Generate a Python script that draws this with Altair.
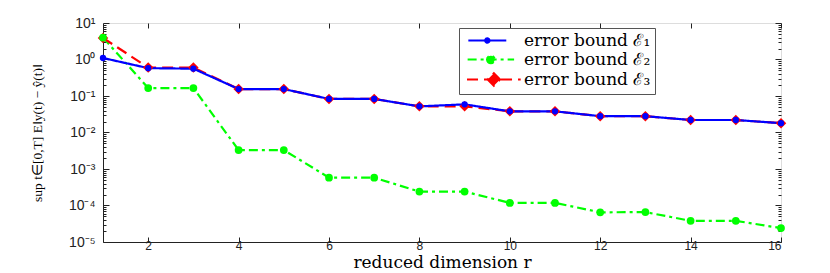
import altair as alt
import pandas as pd

r = list(range(1, 17))
e1 = [1.1, 0.58, 0.56, 0.155, 0.155, 0.083, 0.083, 0.052, 0.059, 0.038, 0.038, 0.028, 0.028, 0.022, 0.022, 0.018]
e2 = [4.0, 0.165, 0.165, 0.0033, 0.0033, 0.00058, 0.00058, 0.00024, 0.00024, 0.000118, 0.000118, 6.5e-5, 6.6e-5, 3.8e-5, 3.8e-5, 2.4e-5]
e3 = [3.9, 0.6, 0.6, 0.155, 0.155, 0.083, 0.083, 0.052, 0.052, 0.038, 0.038, 0.028, 0.028, 0.022, 0.022, 0.018]

L1 = "error bound ℰ₁"
L2 = "error bound ℰ₂"
L3 = "error bound ℰ₃"
labels = [L1, L2, L3]
colors = ["#0000FF", "#00FF00", "#FF0000"]
dashes = [[1, 0], [9, 4, 3, 4], [11, 6]]
circle_sizes = [40, 80, 0]

xticks = [2, 4, 6, 8, 10, 12, 14, 16]
ylabels = ["10⁻⁵", "10⁻⁴", "10⁻³", "10⁻²", "10⁻¹", "10⁰", "10¹"]

rows = []
for lab, vals in [(L2, e2), (L3, e3), (L1, e1)]:
    for xi, v in zip(r, vals):
        rows.append({"r": xi, "v": v, "s": lab, "s2": lab})
df = pd.DataFrame(rows)

yvals = []
for k in range(-5, 1):
    for m in range(1, 10):
        yvals.append(m * 10.0 ** k)
yvals.append(10.0)

lab_arr = "[" + ",".join("'" + s + "'" for s in ylabels) + "]"
major_test = "abs(log(datum.value)/LN10 - round(log(datum.value)/LN10)) < 0.001"
label_expr = f"({major_test}) ? {lab_arr}[round(log(datum.value)/LN10)+5] : ''"
ytick_size = {"condition": {"test": major_test, "value": -6}, "value": -3}

# legend glyphs: line segment with the marker in its middle
leg_paths = [
    "M-1,0H11M4.3,0A0.7,0.7 0 1,0 5.7,0A0.7,0.7 0 1,0 4.3,0Z",
    "M-1,0H11M4,0A1,1 0 1,0 6,0A1,1 0 1,0 4,0Z",
    "M-1,0H11M5,-1.4L6.4,0L5,1.4L3.6,0Z",
]

color_scale = alt.Scale(domain=labels, range=colors)
legend = alt.Legend(
    title=None, orient="none", legendX=356, legendY=5,
    fillColor="white", strokeColor="#555555", padding=4, rowPadding=1,
    labelFont="DejaVu Serif", labelFontSize=17, labelColor="black",
    symbolSize=100, symbolStrokeWidth=2, labelOffset=44,
)

xsc = alt.Scale(domain=[1, 16], nice=False)
ysc = alt.Scale(type="log", domain=[1e-5, 10], nice=False)

x = alt.X("r:Q", scale=xsc,
          axis=alt.Axis(values=xticks, title="reduced dimension r", grid=False,
                        labelFont="Liberation Sans", labelFontSize=12, labelColor="#222",
                        titleFont="DejaVu Serif", titleFontSize=17, titleFontWeight="normal",
                        titleColor="black", titlePadding=3, labelPadding=3,
                        tickSize={"expr": "-5"}, tickColor="#222", domainColor="#222"))
y = alt.Y("v:Q", scale=ysc,
          axis=alt.Axis(values=yvals, labelExpr=label_expr, grid=False, labelOverlap=False,
                        title="sup t∈[0,T] E‖y(t) − ŷ(t)‖",
                        labelFont="Liberation Sans", labelFontSize=14, labelColor="#222",
                        titleFont="Liberation Serif", titleFontSize=13.5, titleFontWeight="normal",
                        titleColor="black", titlePadding=24, labelPadding=14,
                        tickColor="#222", domainColor="#222", tickSize=ytick_size))
xn = alt.X("r:Q", scale=xsc, axis=None)
yn = alt.Y("v:Q", scale=ysc, axis=None)

lines = alt.Chart(df).mark_line(strokeWidth=2.2).encode(
    x=x, y=y,
    color=alt.Color("s:N", scale=color_scale, legend=legend),
    strokeDash=alt.StrokeDash("s:N", scale=alt.Scale(domain=labels, range=dashes), legend=legend),
)
diamonds = alt.Chart(df).transform_filter(alt.datum.s == L3).mark_point(
    filled=True, opacity=1, shape="diamond", size=110).encode(
    x=xn, y=yn, color=alt.Color("s:N", scale=color_scale, legend=legend),
)
circles = alt.Chart(df).transform_filter(alt.datum.s != L3).mark_point(
    filled=True, opacity=1, shape="circle").encode(
    x=xn, y=yn, color=alt.Color("s:N", scale=color_scale, legend=legend),
    size=alt.Size("s2:N", scale=alt.Scale(domain=labels, range=circle_sizes), legend=None),
)
legend_glyphs = alt.Chart(df).transform_filter("false").mark_point(filled=True, opacity=1).encode(
    x=xn, y=yn,
    color=alt.Color("s:N", scale=color_scale, legend=legend),
    shape=alt.Shape("s:N", scale=alt.Scale(domain=labels, range=leg_paths), legend=legend),
)
frame = alt.Chart(df).transform_filter("false").mark_point().encode(
    x=alt.X("r:Q", scale=xsc, axis=alt.Axis(orient="top", values=xticks, labels=False, title=None,
                                             grid=False, domain=False, tickColor="#222",
                                             tickSize={"expr": "-5"})),
    y=alt.Y("v:Q", scale=ysc, axis=alt.Axis(orient="right", values=yvals, labels=False, title=None,
                                             grid=False, domain=False, tickColor="#222",
                                             tickSize=ytick_size)),
)

chart = alt.layer(lines, diamonds, circles, legend_glyphs, frame).resolve_axis(
    x="independent", y="independent"
).properties(
    width=678, height=219,
    padding={"left": 22, "top": 8, "right": 5, "bottom": 0},
).configure_view(stroke="#222", strokeWidth=1).configure(background="white")

chart.save("out.html", embed_options={"renderer": "svg", "actions": False})
